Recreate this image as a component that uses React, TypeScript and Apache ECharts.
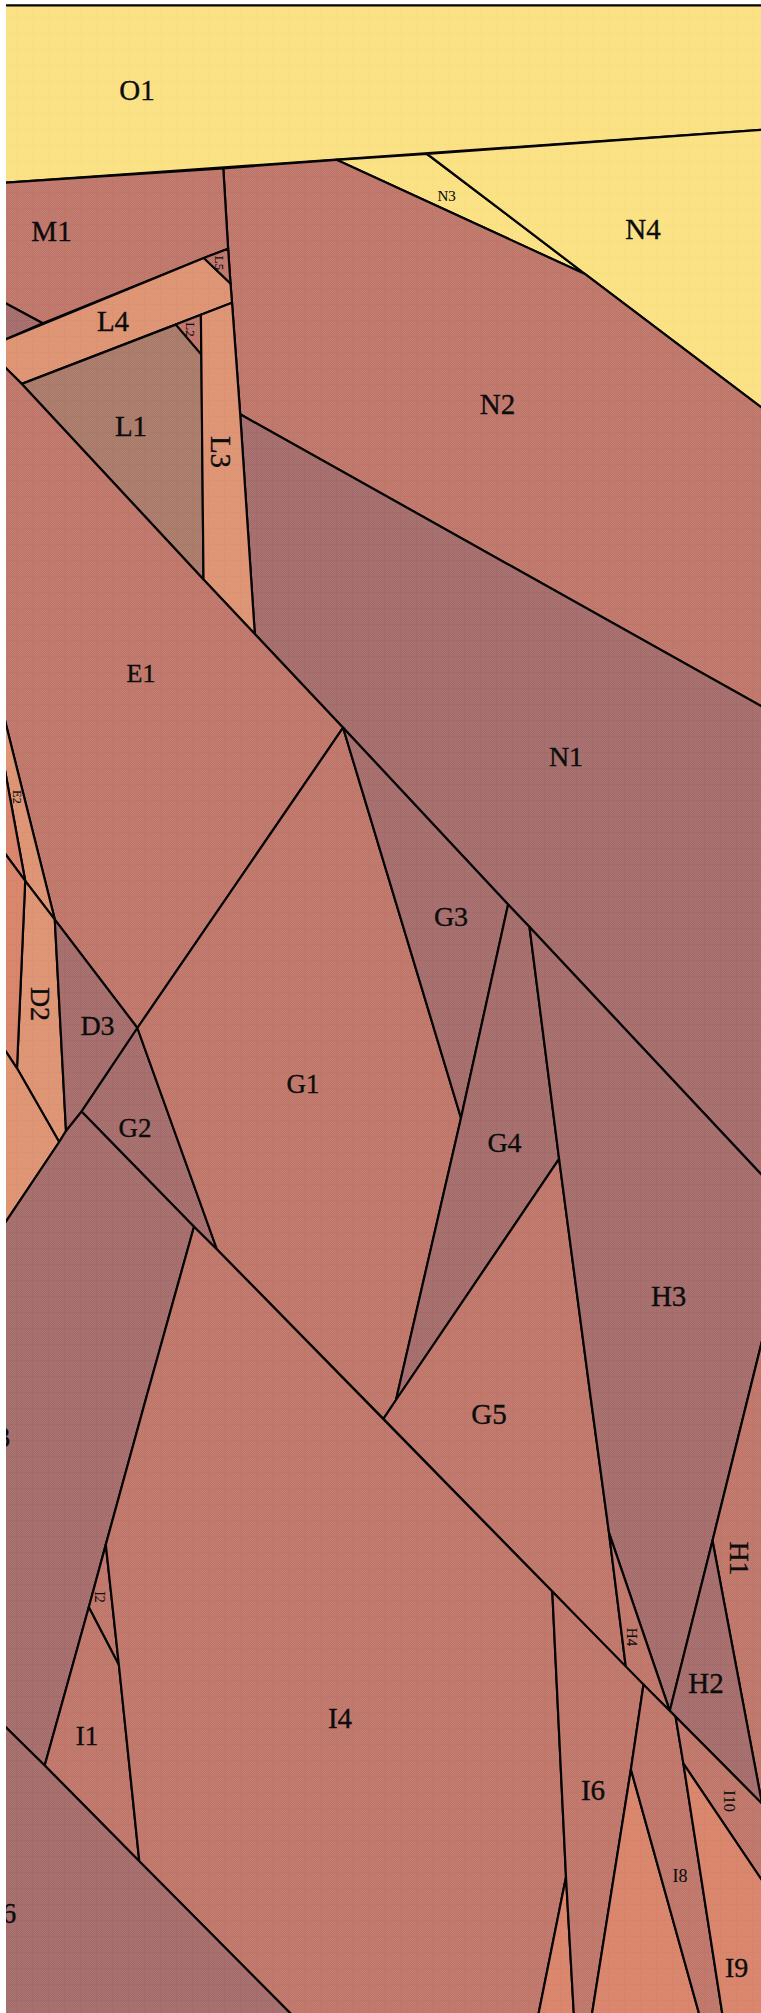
import React, { useEffect, useRef } from "react";
import * as echarts from "echarts";

type Pt = [number, number];

const regionNames: string[] = [
  "O1", "N3", "N4", "N2", "N1", "M1", "M2", "L4", "L5", "L2", "L1", "L3",
  "E1", "E2", "E3", "D2", "D1", "D4", "D3", "G2", "G1", "G3", "G4", "G5",
  "H3", "H1", "H2", "H4", "F3", "I2", "I1", "I4", "F6", "I5", "I6", "I7",
  "I8", "I10", "I9",
];

const regionTones: string[] = [
  "sun", "sun", "sun", "rust", "mauve", "rust", "mauve", "peach", "rust", "rust", "umber", "peach",
  "rust", "peach", "coral", "peach", "coral", "peach", "mauve", "mauve", "rust", "mauve", "mauve", "rust",
  "mauve", "rust", "mauve", "rust", "mauve", "rust", "rust", "rust", "mauve", "coral", "rust", "coral",
  "rust", "rust", "coral",
];

const regionVertices: Pt[][] = [
  [[4, 5.4], [765, 5.4], [765, 129.6], [4, 182.7]],
  [[336.5, 159.8], [427.1, 154], [585.5, 274.3]],
  [[427.1, 154], [765, 129.6], [765, 410.1], [585.5, 274.3]],
  [[223.3, 168.3], [336.5, 159.8], [585.5, 274.3], [765, 410.1], [765, 708.2], [240.2, 414.3], [232, 302.7], [230.5, 283.5], [228.1, 248.7]],
  [[240.2, 414.3], [765, 708.2], [765, 1178.3], [529.5, 927], [508.1, 904.5], [343.1, 727.7], [254.8, 633.9]],
  [[4, 182.7], [223.3, 168.3], [228.1, 248.7], [203.8, 258], [42.7, 323.2], [4, 302.5]],
  [[4, 302.5], [42.7, 323.2], [4, 340.1]],
  [[4, 340.1], [203.8, 258], [230.5, 283.5], [232, 302.7], [21.8, 383.9], [4, 366.2]],
  [[203.8, 258], [228.1, 248.7], [230.5, 283.5]],
  [[175.7, 324.6], [200.9, 314.7], [201.5, 354.9]],
  [[21.8, 383.9], [175.7, 324.6], [201.5, 354.9], [203.5, 579.5]],
  [[200.9, 314.7], [232, 302.7], [240.2, 414.3], [254.8, 633.9], [203.5, 579.5]],
  [[4, 366.2], [21.8, 383.9], [203.5, 579.5], [254.8, 633.9], [343.1, 727.7], [137.4, 1028], [54.8, 919.6], [4, 716.6]],
  [[4, 716.6], [54.8, 919.6], [25.2, 880.8], [4, 765]],
  [[4, 765], [25.2, 880.8], [4, 852.2]],
  [[25.2, 880.8], [54.8, 919.6], [66, 1131], [59.2, 1142], [17, 1068.3]],
  [[4, 852.2], [25.2, 880.8], [17, 1068.3], [4, 1048.8]],
  [[4, 1048.8], [17, 1068.3], [59.2, 1142], [4, 1224.4]],
  [[54.8, 919.6], [137.4, 1028], [81.5, 1111.6], [66, 1131]],
  [[137.4, 1028], [217, 1249.5], [194, 1226.8], [81.5, 1111.6]],
  [[343.1, 727.7], [461, 1118], [396, 1400], [383.4, 1418.8], [217, 1249.5], [137.4, 1028]],
  [[343.1, 727.7], [508.1, 904.5], [461, 1118]],
  [[508.1, 904.5], [529.5, 927], [559.1, 1158.9], [396, 1400], [461, 1118]],
  [[559.1, 1158.9], [591, 1400], [609, 1532.9], [626, 1668.5], [552.3, 1591.6], [383.4, 1418.8], [396, 1400]],
  [[529.5, 927], [765, 1178.3], [765, 1329], [712.5, 1540.7], [669.8, 1710.8], [609, 1532.9], [591, 1400], [559.1, 1158.9]],
  [[765, 1329], [765, 1803.7], [762, 1803.7], [712.5, 1540.7]],
  [[712.5, 1540.7], [762, 1803.7], [669.8, 1710.8]],
  [[609, 1532.9], [669.8, 1710.8], [626, 1668.5]],
  [[4, 1224.4], [59.2, 1142], [66, 1131], [81.5, 1111.6], [194, 1226.8], [145.6, 1400], [105.8, 1544.6], [88.8, 1607.2], [44.7, 1765.5], [4, 1725.6]],
  [[105.8, 1544.6], [118.9, 1665], [88.8, 1607.2]],
  [[88.8, 1607.2], [118.9, 1665], [139.3, 1861.3], [44.7, 1765.5]],
  [[194, 1226.8], [217, 1249.5], [552.3, 1591.6], [566, 1877], [537.9, 2017], [294, 2017], [139.3, 1861.3], [118.9, 1665], [105.8, 1544.6], [145.6, 1400]],
  [[4, 1725.6], [44.7, 1765.5], [139.3, 1861.3], [294, 2017], [4, 2017]],
  [[566, 1877], [574, 2017], [537.9, 2017]],
  [[552.3, 1591.6], [643.5, 1684.5], [630.9, 1769.4], [591.5, 2017], [574, 2017], [566, 1877]],
  [[630.9, 1769.4], [700, 2017], [591.5, 2017]],
  [[643.5, 1684.5], [675.6, 1716.7], [683.4, 1763.6], [722.8, 2017], [700, 2017], [630.9, 1769.4]],
  [[675.6, 1716.7], [762, 1803.7], [765, 1806.7], [765, 1884.8], [683.4, 1763.6]],
  [[683.4, 1763.6], [765, 1884.8], [765, 2017], [722.8, 2017]],
];

const labelNames: string[] = [
  "O1", "M1", "L4", "L5", "L2", "L1", "L3", "N3", "N4", "N2", "E1", "N1", "G3", "E2", "D2", "D3",
  "G2", "G1", "G4", "H3", "G5", "H1", "I2", "H4", "H2", "I1", "I4", "I6", "I10", "I8", "I9", "F3", "F6",
];
const labelPoints: Pt[] = [
  [137, 90], [51.5, 231], [113, 321], [219, 263], [190, 329.5], [131, 426], [221, 452], [446.6, 196],
  [643, 229], [497.5, 403.5], [141, 673], [566, 756.5], [451, 916], [17, 797], [40, 1004], [97.5, 1025],
  [135, 1128], [303, 1084], [504.5, 1142], [668.6, 1296], [489, 1414], [739, 1558.5], [99, 1597], [632, 1637],
  [706, 1683], [87, 1736], [340, 1718], [593, 1790], [729, 1801], [680, 1875.5], [736.6, 1967], [-5, 1437], [1, 1913],
];
const labelSizes: number[] = [
  29, 29, 29, 13, 13, 29, 29, 15, 29, 29, 26, 28, 28, 12, 28, 28, 27, 27, 28, 29, 29, 28, 14, 15, 29, 27, 29, 29, 16, 18, 28, 29, 29,
];
const rotatedLabels: string[] = ["L5", "L2", "L3", "E2", "D2", "H1", "I2", "H4", "I10"];

const toneColors: Record<string, string> = {
  sun: "#fde383",
  rust: "#c1776a",
  mauve: "#a66d6b",
  umber: "#ab7b69",
  peach: "#df9473",
  coral: "#da856b",
};

function makeTile(): HTMLCanvasElement {
  const size = 16;
  const c = document.createElement("canvas");
  c.width = size;
  c.height = size;
  const ctx = c.getContext("2d")!;
  const img = ctx.createImageData(size, size);
  for (let y = 0; y < size; y++) {
    for (let x = 0; x < size; x++) {
      const i = (y * size + x) * 4;
      const onGrid = x % 16 < 1 || y % 16 < 1;
      const fine = (x + y) % 2 === 0;
      const light = fine && !onGrid;
      img.data[i] = img.data[i + 1] = img.data[i + 2] = light ? 255 : 60;
      img.data[i + 3] = light ? 12 : onGrid ? 7 : 6;
    }
  }
  ctx.putImageData(img, 0, 0);
  return c;
}

export default function App() {
  const ref = useRef<HTMLDivElement>(null);
  useEffect(() => {
    const chart = echarts.init(ref.current!, undefined, { renderer: "svg" });
    const tile = makeTile();
    const shapeSeries = {
      type: "custom",
      coordinateSystem: "cartesian2d",
      clip: true,
      silent: true,
      z: 2,
      data: regionNames.map((name, i) => ({ name, value: [regionVertices[i][0][0], regionVertices[i][0][1], i] })),
      encode: { x: 0, y: 1 },
      renderItem: (_p: any, api: any) => {
        const i = api.value(2);
        const points = regionVertices[i].map((v: Pt) => api.coord(v));
        return {
          type: "group",
          children: [
            { type: "polygon", shape: { points }, style: { fill: toneColors[regionTones[i]], stroke: "none" } },
            {
              type: "polygon",
              shape: { points },
              style: { fill: { image: tile, repeat: "repeat" }, stroke: "#050505", lineWidth: 2.2, lineJoin: "round" },
            },
          ],
        };
      },
    };
    const labelSeries = {
      type: "custom",
      coordinateSystem: "cartesian2d",
      clip: true,
      silent: true,
      z: 3,
      data: labelNames.map((name, i) => ({ name, value: [labelPoints[i][0], labelPoints[i][1], i] })),
      encode: { x: 0, y: 1 },
      renderItem: (_p: any, api: any) => {
        const i = api.value(2);
        const [x, y] = api.coord([api.value(0), api.value(1)]);
        return {
          type: "text",
          x,
          y,
          rotation: rotatedLabels.includes(labelNames[i]) ? -Math.PI / 2 : 0,
          style: {
            text: labelNames[i],
            fill: "#0c0c0c",
            stroke: "#0c0c0c",
            lineWidth: labelSizes[i] > 20 ? 0.35 : 0.1,
            font: `${labelSizes[i]}px "Liberation Serif"`,
            align: "center",
            verticalAlign: "middle",
          },
        };
      },
    };
    chart.setOption({
      animation: false,
      backgroundColor: "#ffffff",
      grid: { left: 6, right: 0, top: 4, bottom: 0 },
      xAxis: { type: "value", min: 6, max: 761, show: false },
      yAxis: { type: "value", min: 4, max: 2013, inverse: true, show: false },
      series: [shapeSeries, labelSeries],
    } as any);
    return () => chart.dispose();
  }, []);
  return <div ref={ref} style={{ position: "absolute", left: 0, top: 0, width: 761, height: 2013 }} />;
}
